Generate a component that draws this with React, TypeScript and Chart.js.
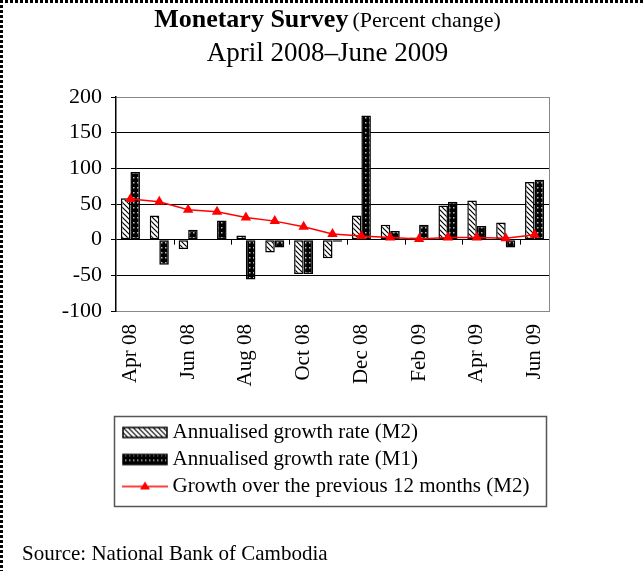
import React, { useEffect, useRef } from "react";
import { Chart, registerables } from "chart.js";

Chart.register(...registerables);

const categories = [
  "Apr 08", "May 08", "Jun 08", "Jul 08", "Aug 08", "Sep 08", "Oct 08", "Nov 08",
  "Dec 08", "Jan 09", "Feb 09", "Mar 09", "Apr 09", "May 09", "Jun 09",
];
const m2Annualised = [58, 34, -13, 0, 6, -18, -48, -26, 34, 21, 3, 48, 55, 24, 81];
const m1Annualised = [95, -35, 14, 27, -56, -11, -48, -3, 174, 12, 21, 53, 19, -11, 84];
const m2Growth12 = [57, 53, 42, 39, 31, 26, 18, 8, 5, 3, 1, 3, 3, 2, 7];
const yMin = -100;
const yMax = 200;
const yStep = 50;

const legendLabels = [
  "Annualised growth rate (M2)",
  "Annualised growth rate (M1)",
  "Growth over the previous 12 months (M2)",
];

const FONT = "'Liberation Serif', 'Times New Roman', serif";

function makeHatchTile(): HTMLCanvasElement {
  const c = document.createElement("canvas");
  c.width = 5;
  c.height = 5;
  const x = c.getContext("2d")!;
  x.fillStyle = "#fff";
  x.fillRect(0, 0, 5, 5);
  x.strokeStyle = "#000";
  x.lineWidth = 1.2;
  x.beginPath();
  for (const k of [-5, 0, 5]) {
    x.moveTo(k - 1, -1);
    x.lineTo(k + 6, 6);
  }
  x.stroke();
  return c;
}

function makeDotTile(): HTMLCanvasElement {
  const c = document.createElement("canvas");
  c.width = 4;
  c.height = 5;
  const x = c.getContext("2d")!;
  x.fillStyle = "#000";
  x.fillRect(0, 0, 4, 5);
  x.fillStyle = "#bbb";
  x.fillRect(1, 2, 1.5, 1.5);
  return c;
}

function makeSwatch(kind: "hatch" | "dots" | "line", hatch: CanvasPattern, dots: CanvasPattern): HTMLCanvasElement {
  const c = document.createElement("canvas");
  c.width = 52;
  c.height = 14;
  const x = c.getContext("2d")!;
  if (kind === "line") {
    x.strokeStyle = "#ff0000";
    x.lineWidth = 1.5;
    x.beginPath();
    x.moveTo(6, 7);
    x.lineTo(52, 7);
    x.stroke();
    x.fillStyle = "#ff0000";
    x.beginPath();
    x.moveTo(29, 2);
    x.lineTo(34, 10);
    x.lineTo(24, 10);
    x.closePath();
    x.fill();
  } else {
    x.fillStyle = kind === "hatch" ? hatch : dots;
    x.fillRect(7, 2, 44, 10);
    x.strokeStyle = "#000";
    x.lineWidth = 1.5;
    x.strokeRect(7, 2, 44, 10);
  }
  return c;
}

export default function App() {
  const canvasRef = useRef<HTMLCanvasElement>(null);

  useEffect(() => {
    const canvas = canvasRef.current;
    if (!canvas) return;
    const ctx = canvas.getContext("2d")!;
    Chart.defaults.font.family = FONT;
    Chart.defaults.color = "#000";

    const hatch = ctx.createPattern(makeHatchTile(), "repeat")!;
    const dots = ctx.createPattern(makeDotTile(), "repeat")!;
    const swatches = [
      makeSwatch("hatch", hatch, dots),
      makeSwatch("dots", hatch, dots),
      makeSwatch("line", hatch, dots),
    ];

    const extras = {
      id: "extras",
      afterDatasetsDraw(chart: any) {
        const c = chart.ctx;
        const xs = chart.scales.x;
        const ys = chart.scales.y;
        const area = chart.chartArea;
        c.save();
        c.strokeStyle = "#888";
        c.lineWidth = 1;
        c.beginPath();
        c.moveTo(area.right + 0.5, area.top);
        c.lineTo(area.right + 0.5, area.bottom);
        c.stroke();
        const y0 = ys.getPixelForValue(0);
        c.strokeStyle = "#000";
        c.beginPath();
        for (let i = 2; i < categories.length; i += 2) {
          const px = Math.round((xs.getPixelForValue(i - 1) + xs.getPixelForValue(i)) / 2) + 0.5;
          c.moveTo(px, y0);
          c.lineTo(px, y0 + 5);
        }
        c.stroke();
        c.restore();
      },
      afterDraw(chart: any) {
        const l = chart.legend;
        if (!l) return;
        const c = chart.ctx;
        c.save();
        c.strokeStyle = "#555";
        c.lineWidth = 1.5;
        c.strokeRect(l.left - 1.5, l.top + 0.5, l.width - 1, l.height - 1);
        c.restore();
      },
    };

    const chart = new Chart(canvas, {
      type: "bar",
      data: {
        labels: categories,
        datasets: [
          {
            type: "line",
            label: legendLabels[2],
            data: m2Growth12,
            borderColor: "#ff0000",
            backgroundColor: "#ff0000",
            borderWidth: 1.5,
            pointStyle: "triangle",
            pointRadius: 6,
            pointBackgroundColor: "#ff0000",
            pointBorderColor: "#ff0000",
            pointBorderWidth: 0,
            order: 0,
          } as any,
          {
            label: legendLabels[0],
            data: m2Annualised,
            backgroundColor: hatch,
            borderColor: "#000",
            borderWidth: 1.5,
            borderSkipped: false,
            categoryPercentage: 0.66,
            barPercentage: 1,
            order: 1,
          },
          {
            label: legendLabels[1],
            data: m1Annualised,
            backgroundColor: dots,
            borderColor: "#000",
            borderWidth: 1.5,
            borderSkipped: false,
            categoryPercentage: 0.66,
            barPercentage: 1,
            order: 1,
          },
        ],
      },
      options: {
        responsive: false,
        maintainAspectRatio: false,
        animation: false,
        layout: { padding: { left: 0, top: 97, right: 94, bottom: 64 } },
        scales: {
          x: {
            grid: { display: false, drawTicks: false },
            border: { display: true, color: "#888", width: 1 },
            ticks: {
              autoSkip: false,
              maxRotation: 90,
              minRotation: 90,
              padding: 13,
              color: "#000",
              font: { size: 21, family: FONT },
              callback: (_v: any, i: number) => (i % 2 === 0 ? categories[i] : ""),
            },
            afterFit: (s: any) => {
              s.height = 105;
            },
          },
          y: {
            min: yMin,
            max: yMax,
            ticks: { stepSize: yStep, padding: 9, color: "#000", font: { size: 22, family: FONT } },
            grid: {
              color: (c: any) => (c.tick && (c.tick.value === yMax || c.tick.value === yMin) ? "#888" : "#000"),
              tickColor: "#000",
              tickLength: 5,
              lineWidth: 1,
            },
            border: { color: "#000", width: 1.5 },
            afterFit: (s: any) => {
              s.width = 116;
            },
          },
        },
        plugins: {
          legend: {
            position: "bottom",
            align: "start",
            fullSize: false,
            labels: {
              usePointStyle: true,
              pointStyleWidth: 40,
              padding: 6,
              color: "#000",
              font: { size: 21, family: FONT },
              generateLabels: () =>
                legendLabels.map((t, i) => ({
                  text: t,
                  pointStyle: swatches[i],
                  fillStyle: "#000",
                  strokeStyle: "#000",
                  lineWidth: 0,
                  hidden: false,
                  datasetIndex: i === 2 ? 0 : i + 1,
                })),
            },
          } as any,
          tooltip: { enabled: false },
          title: { display: false },
        },
      },
      plugins: [extras],
    } as any);

    return () => chart.destroy();
  }, []);

  return (
    <div
      style={{
        position: "fixed",
        left: 0,
        top: 0,
        width: 643,
        height: 571,
        background: "#fff",
        fontFamily: FONT,
        color: "#000",
        overflow: "hidden",
      }}
    >
      <canvas ref={canvasRef} width={643} height={571} style={{ position: "absolute", left: 0, top: 0 }} />
      <div
        style={{
          position: "absolute",
          left: 0,
          top: 0,
          width: 3,
          height: 571,
          background: "repeating-linear-gradient(to bottom, #000 0px, #000 3px, transparent 3px, transparent 5px)",
        }}
      />
      <div
        style={{
          position: "absolute",
          left: 0,
          top: 0,
          width: 643,
          height: 3,
          background: "repeating-linear-gradient(to right, #000 0px, #000 3px, transparent 3px, transparent 5px)",
        }}
      />
      <div
        style={{
          position: "absolute",
          left: 6,
          top: 4,
          width: 643,
          textAlign: "center",
          lineHeight: "30px",
          whiteSpace: "nowrap",
        }}
      >
        <div>
          <span style={{ fontWeight: "bold", fontSize: 26 }}>Monetary Survey</span>{" "}
          <span style={{ fontSize: 22 }}>(Percent change)</span>
        </div>
        <div style={{ fontSize: 27 }}>April 2008–June 2009</div>
      </div>
      <div
        style={{
          position: "absolute",
          left: 22,
          top: 540,
          fontSize: 21,
          lineHeight: "26px",
          whiteSpace: "nowrap",
        }}
      >
        Source: National Bank of Cambodia
      </div>
    </div>
  );
}
